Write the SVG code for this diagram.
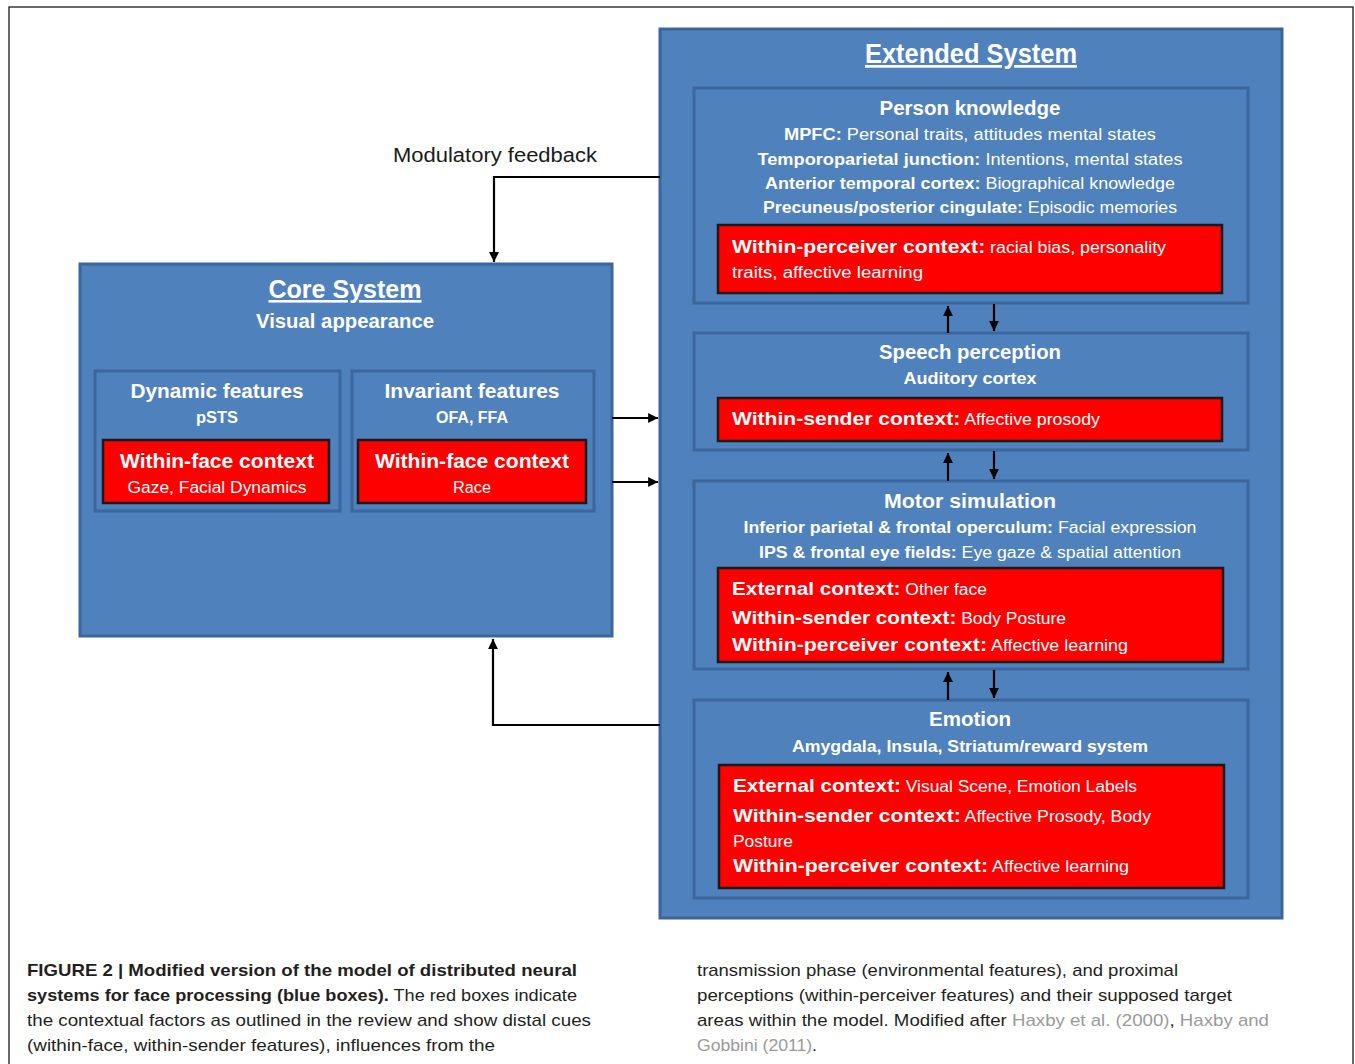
<svg xmlns="http://www.w3.org/2000/svg" width="1355" height="1064" viewBox="0 0 1355 1064">
<defs>
<style>
.sys{fill:#4F81BD;stroke:#3A669C;stroke-width:3}
.sub{fill:#4F81BD;stroke:#3B679D;stroke-width:3}
.red{fill:#FF0000;stroke:#1A1A1A;stroke-width:2.5}
.t{font-family:"Liberation Sans",Arial,sans-serif;fill:#FFFFFF}
.b{font-weight:bold}
.c{text-anchor:middle}
.cap{font-family:"Liberation Sans",Arial,sans-serif;font-size:17px;fill:#231F20}
.lnk{fill:#9A9A9A}
.con{fill:none;stroke:#000;stroke-width:2.2}
</style>
<marker id="ah" viewBox="0 0 10 10" refX="10" refY="5" markerWidth="4.5" markerHeight="4.5" orient="auto" markerUnits="strokeWidth">
<path d="M0,0 L10,5 L0,10 Z" fill="#000"/>
</marker>
</defs>
<rect x="0" y="0" width="1355" height="1064" fill="#FFFFFF"/>
<rect x="9" y="7" width="1344" height="1080" fill="none" stroke="#1a1a1a" stroke-width="1.3"/>

<g id="core-system">
<rect class="sys" x="80" y="264" width="532" height="372"/>
<text class="t b c" x="345" y="298" font-size="26" textLength="153" lengthAdjust="spacingAndGlyphs" text-decoration="underline">Core System</text>
<text class="t b c" x="345" y="328" font-size="20" textLength="178" lengthAdjust="spacingAndGlyphs">Visual appearance</text>
</g>

<g id="dynamic-features">
<rect class="sub" x="95" y="371" width="245" height="140"/>
<text class="t b c" x="217" y="398" font-size="20" textLength="173" lengthAdjust="spacingAndGlyphs">Dynamic features</text>
<text class="t b c" x="217" y="423" font-size="16" textLength="42" lengthAdjust="spacingAndGlyphs">pSTS</text>
<rect class="red" x="103" y="440" width="226" height="63"/>
<text class="t b c" x="217" y="468" font-size="20" textLength="194" lengthAdjust="spacingAndGlyphs">Within-face context</text>
<text class="t c" x="217" y="493" font-size="16" textLength="179" lengthAdjust="spacingAndGlyphs">Gaze, Facial Dynamics</text>
</g>

<g id="invariant-features">
<rect class="sub" x="352" y="371" width="242" height="140"/>
<text class="t b c" x="472" y="398" font-size="20" textLength="175" lengthAdjust="spacingAndGlyphs">Invariant features</text>
<text class="t b c" x="472" y="423" font-size="16" textLength="72" lengthAdjust="spacingAndGlyphs">OFA, FFA</text>
<rect class="red" x="358" y="440" width="228" height="63"/>
<text class="t b c" x="472" y="468" font-size="20" textLength="194" lengthAdjust="spacingAndGlyphs">Within-face context</text>
<text class="t c" x="472" y="493" font-size="16" textLength="38" lengthAdjust="spacingAndGlyphs">Race</text>
</g>

<g id="extended-system">
<rect class="sys" x="660" y="29" width="622" height="889"/>
<text class="t b c" x="971" y="63" font-size="27" textLength="212" lengthAdjust="spacingAndGlyphs" text-decoration="underline">Extended System</text>
</g>

<g id="person-knowledge">
<rect class="sub" x="694" y="88" width="554" height="215"/>
<text class="t b c" x="970" y="115" font-size="20" textLength="181" lengthAdjust="spacingAndGlyphs">Person knowledge</text>
<text class="t c" x="970" y="140" font-size="16" textLength="372" lengthAdjust="spacingAndGlyphs"><tspan class="b">MPFC:</tspan> Personal traits, attitudes mental  states</text>
<text class="t c" x="970" y="165" font-size="16" textLength="425" lengthAdjust="spacingAndGlyphs"><tspan class="b">Temporoparietal junction:</tspan> Intentions, mental states</text>
<text class="t c" x="970" y="189" font-size="16" textLength="410" lengthAdjust="spacingAndGlyphs"><tspan class="b">Anterior temporal cortex:</tspan> Biographical knowledge</text>
<text class="t c" x="970" y="213" font-size="16" textLength="414" lengthAdjust="spacingAndGlyphs"><tspan class="b">Precuneus/posterior cingulate:</tspan> Episodic memories</text>
<rect class="red" x="718" y="225" width="504" height="68"/>
<text class="t" x="732" y="253" font-size="16" textLength="434" lengthAdjust="spacingAndGlyphs"><tspan class="b" font-size="19">Within-perceiver context:</tspan> racial bias, personality</text>
<text class="t" x="732" y="278" font-size="16" textLength="191" lengthAdjust="spacingAndGlyphs">traits, affective learning</text>
</g>

<g id="speech-perception">
<rect class="sub" x="694" y="333" width="554" height="117"/>
<text class="t b c" x="970" y="359" font-size="20" textLength="182" lengthAdjust="spacingAndGlyphs">Speech perception</text>
<text class="t b c" x="970" y="384" font-size="16" textLength="133" lengthAdjust="spacingAndGlyphs">Auditory cortex</text>
<rect class="red" x="718" y="398" width="504" height="43"/>
<text class="t" x="732" y="425" font-size="16" textLength="368" lengthAdjust="spacingAndGlyphs"><tspan class="b" font-size="19">Within-sender context:</tspan> Affective prosody</text>
</g>

<g id="motor-simulation">
<rect class="sub" x="694" y="481" width="554" height="188"/>
<text class="t b c" x="970" y="508" font-size="20" textLength="172" lengthAdjust="spacingAndGlyphs">Motor simulation</text>
<text class="t c" x="970" y="533" font-size="16" textLength="453" lengthAdjust="spacingAndGlyphs"><tspan class="b">Inferior parietal &amp; frontal operculum:</tspan> Facial expression</text>
<text class="t c" x="970" y="558" font-size="16" textLength="422" lengthAdjust="spacingAndGlyphs"><tspan class="b">IPS &amp; frontal eye fields:</tspan> Eye gaze &amp; spatial attention</text>
<rect class="red" x="718" y="568" width="505" height="94"/>
<text class="t" x="732" y="595" font-size="16" textLength="255" lengthAdjust="spacingAndGlyphs"><tspan class="b" font-size="19">External context:</tspan> Other face</text>
<text class="t" x="732" y="624" font-size="16" textLength="334" lengthAdjust="spacingAndGlyphs"><tspan class="b" font-size="19">Within-sender context:</tspan> Body Posture</text>
<text class="t" x="732" y="651" font-size="16" textLength="396" lengthAdjust="spacingAndGlyphs"><tspan class="b" font-size="19">Within-perceiver context:</tspan> Affective learning</text>
</g>

<g id="emotion">
<rect class="sub" x="694" y="700" width="554" height="198"/>
<text class="t b c" x="970" y="726" font-size="20" textLength="82" lengthAdjust="spacingAndGlyphs">Emotion</text>
<text class="t b c" x="970" y="752" font-size="16" textLength="356" lengthAdjust="spacingAndGlyphs">Amygdala, Insula, Striatum/reward system</text>
<rect class="red" x="719" y="765" width="505" height="123"/>
<text class="t" x="733" y="792" font-size="16" textLength="404" lengthAdjust="spacingAndGlyphs"><tspan class="b" font-size="19">External context:</tspan> Visual Scene, Emotion Labels</text>
<text class="t" x="733" y="822" font-size="16" textLength="418" lengthAdjust="spacingAndGlyphs"><tspan class="b" font-size="19">Within-sender context:</tspan> Affective Prosody, Body</text>
<text class="t" x="733" y="847" font-size="16" textLength="60" lengthAdjust="spacingAndGlyphs">Posture</text>
<text class="t" x="733" y="872" font-size="16" textLength="396" lengthAdjust="spacingAndGlyphs"><tspan class="b" font-size="19">Within-perceiver context:</tspan> Affective learning</text>
</g>

<g id="connectors">
<path class="con" d="M660,177 H494 V262" marker-end="url(#ah)"/>
<path class="con" d="M660,725 H493 V639" marker-end="url(#ah)"/>
<path class="con" d="M612,418 H658" marker-end="url(#ah)"/>
<path class="con" d="M612,482 H658" marker-end="url(#ah)"/>
<path class="con" d="M948,333 V306" marker-end="url(#ah)"/>
<path class="con" d="M994,304 V331" marker-end="url(#ah)"/>
<path class="con" d="M948,481 V453" marker-end="url(#ah)"/>
<path class="con" d="M994,451 V479" marker-end="url(#ah)"/>
<path class="con" d="M948,700 V672" marker-end="url(#ah)"/>
<path class="con" d="M994,670 V698" marker-end="url(#ah)"/>
<text x="393" y="162" font-family="Liberation Sans,Arial,sans-serif" font-size="20" fill="#1a1a1a" textLength="204" lengthAdjust="spacingAndGlyphs">Modulatory feedback</text>
</g>

<g id="caption">
<text class="cap" x="27" y="976" font-weight="bold" textLength="550" lengthAdjust="spacingAndGlyphs">FIGURE 2 | Modified version of the model of distributed neural</text>
<text class="cap" x="27" y="1001" textLength="550" lengthAdjust="spacingAndGlyphs"><tspan font-weight="bold">systems for face processing (blue boxes).</tspan> The red boxes indicate</text>
<text class="cap" x="27" y="1026" textLength="564" lengthAdjust="spacingAndGlyphs">the contextual factors as outlined in the review and show distal cues</text>
<text class="cap" x="27" y="1051" textLength="468" lengthAdjust="spacingAndGlyphs">(within-face, within-sender features), influences from the</text>
<text class="cap" x="697" y="976" textLength="481" lengthAdjust="spacingAndGlyphs">transmission phase (environmental features), and proximal</text>
<text class="cap" x="697" y="1001" textLength="535" lengthAdjust="spacingAndGlyphs">perceptions (within-perceiver features) and their supposed target</text>
<text class="cap" x="697" y="1026" textLength="572" lengthAdjust="spacingAndGlyphs">areas within the model. Modified after <tspan class="lnk">Haxby et al. (2000)</tspan>, <tspan class="lnk">Haxby and</tspan></text>
<text class="cap" x="697" y="1051" textLength="120" lengthAdjust="spacingAndGlyphs"><tspan class="lnk">Gobbini (2011)</tspan>.</text>
</g>
</svg>
